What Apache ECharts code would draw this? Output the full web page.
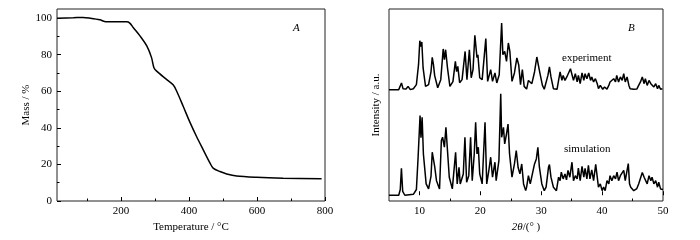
<!DOCTYPE html>
<html>
<head>
<meta charset="utf-8">
<script src="https://cdn.jsdelivr.net/npm/echarts@6/dist/echarts.min.js"></script>
<style>
html, body { margin: 0; padding: 0; background: #fff; }
#main { width: 700px; height: 240px; }
</style>
</head>
<body>
<div id="main"></div>
<script>
// TGA: [temperature (°C), mass (%)]
var tgaCurve = [
	[12, 100], [60, 100.2], [89, 100.4], [109, 100], [138, 99.1], [156, 98], [168, 98],
	[217, 98], [226, 97.3], [236, 94.9], [256, 90.3], [276, 84.8], [290, 78.4],
	[297, 72.9], [305, 71], [334, 66.5], [354, 63.4], [364, 60], [383, 51.8],
	[403, 43], [423, 35], [442, 28], [462, 20.7], [471, 18], [491, 16.1], [511, 14.8],
	[540, 13.7], [599, 13], [677, 12.5], [790, 12.1]
];

// XRD: [2theta (°), intensity (a.u.)]
var xrdExperiment = [
	[5, 0], [6.6, 0], [6.85, 0.8], [7.05, 3.5], [7.3, 0.5], [7.8, 0.3], [8.13, 1.7], [8.5, 0],
	[9.0, 0.5], [9.5, 2.6], [9.85, 13], [10.06, 25.5], [10.2, 22.5], [10.39, 24.8], [10.6, 11.3],
	[11.0, 1.7], [11.5, 2.6], [11.9, 9.4], [12.1, 16.8], [12.3, 13], [12.5, 7.3], [13.0, 1],
	[13.5, 5.2], [13.9, 21.2], [14.1, 15.6], [14.3, 20.8], [14.6, 11.5], [15.0, 1.7], [15.5, 4.2],
	[15.9, 14.7], [16.1, 9.4], [16.3, 12.1], [16.6, 3.6], [17.0, 5.2], [17.5, 19.9], [17.8, 5.2],
	[18.2, 20.8], [18.5, 6.2], [18.8, 10.4], [19.1, 28.3], [19.45, 16.7], [19.6, 18.2], [19.9, 6.2],
	[20.3, 5.2], [20.9, 26.6], [21.2, 4.3], [21.7, 10.4], [22.0, 4.3], [22.4, 8.7], [22.7, 3.5],
	[23.1, 7.8], [23.5, 34.7], [23.7, 18.2], [24.0, 19.9], [24.3, 14.7], [24.6, 24.3], [24.85, 19.9],
	[25.2, 4.3], [25.6, 8.7], [26.0, 16.5], [26.3, 13], [26.6, 2.6], [26.9, 10.4], [27.2, 1.7],
	[27.6, 0.3], [27.9, 4.8], [28.46, 3.1], [28.9, 9.2], [29.28, 17], [29.55, 17.9], [29.8, 8.3],
	[30.2, 2.2], [30.5, 0.2], [31.1, 7.4], [31.35, 11.8], [31.6, 6.6], [32.0, 0.5], [32.6, 0.2],
	[32.85, 4.8], [33.1, 9.2], [33.4, 4.8], [33.6, 7.4], [33.9, 4.8], [34.2, 6.6], [34.4, 5.7],
	[34.8, 10.9], [35.05, 11.8], [35.3, 4.8], [35.6, 8.3], [35.9, 4], [36.1, 7.4], [36.4, 3.1],
	[36.7, 8.7], [37.0, 4.8], [37.2, 8.3], [37.5, 5.7], [37.8, 8.7], [38.1, 4.8], [38.3, 6.6],
	[38.6, 4], [38.9, 5.7], [39.2, 3.1], [39.4, 0.5], [39.7, 2.2], [40.1, 0.2], [40.4, 1.4],
	[40.8, 0.3], [41.1, 2.2], [41.3, 4], [41.6, 3.1], [41.9, 5.7], [42.2, 4], [42.4, 7.4],
	[42.7, 4], [43.0, 6.6], [43.3, 4.8], [43.55, 8.3], [43.8, 4], [44.1, 6.6], [44.4, 2.2],
	[44.6, 0.5], [44.9, 0.3], [45.2, 0.2], [45.5, 0.5], [45.7, 0.3], [46.0, 2.2], [46.3, 4],
	[46.6, 6.6], [46.9, 3.1], [47.1, 5.7], [47.4, 2.2], [47.7, 4.8], [48.0, 3.1], [48.2, 4],
	[48.5, 1.4], [48.8, 3.1], [49.1, 0.5], [49.3, 2.2], [49.6, 0.2], [49.9, 0.5], [50, 0.5]
];
var xrdSimulation = [
	[5, 0], [6.6, 0], [6.85, 3], [7.04, 14], [7.25, 2], [7.6, 0], [9.0, 0.5], [9.5, 3],
	[9.78, 19.8], [9.95, 20], [10.1, 41.5], [10.25, 30], [10.44, 40.6], [10.65, 21.5], [11.1, 5.9],
	[11.5, 3.3], [11.9, 10], [12.1, 22.4], [12.3, 23.3], [12.5, 15], [12.8, 7.6], [13.3, 3.3],
	[13.6, 28.5], [13.8, 30.2], [14.1, 25], [14.35, 35.4], [14.55, 25.9], [14.9, 9.4], [15.4, 3.3],
	[15.94, 22.4], [16.2, 5.9], [16.5, 14.6], [16.7, 5.9], [17.2, 11.1], [17.47, 30.2], [17.75, 6.8],
	[18.1, 10.2], [18.4, 30.2], [18.67, 7.6], [19.0, 21.5], [19.23, 38], [19.45, 21.5], [19.67, 25],
	[19.9, 11.1], [20.3, 5.9], [20.77, 38], [21.05, 5.9], [21.4, 12.9], [21.7, 19.8], [22.0, 9.4],
	[22.4, 17.2], [22.6, 7.6], [23.05, 18], [23.35, 52.8], [23.5, 30.2], [23.8, 35.4], [24.0, 26.7],
	[24.3, 31.9], [24.55, 37.1], [24.8, 21.5], [25.2, 9.4], [25.6, 16.3], [25.9, 23.3], [26.2, 14.6],
	[26.5, 11.1], [26.8, 16.3], [27.1, 5.9], [27.45, 2.4], [27.6, 4.2], [27.9, 10.2], [28.2, 5.9],
	[28.5, 5], [28.9, 16.3], [29.2, 18.9], [29.45, 25], [29.7, 14.6], [30.1, 5.9], [30.5, 2.4],
	[30.8, 4.2], [31.2, 14.6], [31.35, 16], [31.6, 9.4], [32.0, 4.2], [32.5, 2.4], [32.85, 9.4],
	[33.1, 7.6], [33.3, 12], [33.6, 8.5], [33.9, 11.1], [34.15, 8], [34.4, 12.9], [34.7, 9.4],
	[35.05, 17.2], [35.3, 7.6], [35.6, 10.2], [35.9, 8.5], [36.1, 14.1], [36.4, 7.6], [36.7, 15],
	[37.0, 9.4], [37.2, 14], [37.5, 8.5], [37.75, 15.6], [38.0, 8.5], [38.3, 13.2], [38.6, 7.6],
	[38.95, 16.1], [39.2, 9.4], [39.4, 4.2], [39.7, 5.9], [40.0, 2.4], [40.25, 4.2], [40.5, 2.4],
	[40.8, 7.6], [41.1, 5.9], [41.3, 10.2], [41.6, 7.6], [41.9, 10.2], [42.2, 8.5], [42.45, 12],
	[42.7, 7.6], [43.0, 10.2], [43.3, 9.4], [43.55, 13], [43.8, 7.6], [44.1, 12.9], [44.3, 16.5],
	[44.5, 6], [44.7, 4.2], [44.9, 4.2], [45.2, 2.4], [45.5, 1.5], [45.7, 3.5], [46.0, 5.9],
	[46.3, 5], [46.6, 11.8], [46.9, 9.4], [47.1, 10.2], [47.4, 5.9], [47.7, 10.2], [48.0, 7.6],
	[48.2, 9.4], [48.5, 5.9], [48.8, 7.6], [49.1, 4.2], [49.3, 6.8], [49.6, 3.3], [49.9, 4.2], [50, 3]
];
var experimentOffset = 55;  // vertical stacking of the two patterns

var tempLabels = [200, 400, 600, 800];
var tempMinor = [100, 300, 500, 700];
var massLabels = [0, 20, 40, 60, 80, 100];
var massMinor = [10, 30, 50, 70, 90];
var angleLabels = [10, 20, 30, 40, 50];
var angleMinor = [15, 25, 35, 45];

var myChart = echarts.init(document.getElementById('main'));
var font = 'Liberation Serif';
var txt = { color: '#000', fontFamily: font, fontSize: 11 };

function majorAxis(gridIndex, min, max, labels, extra) {
	var ax = {
		type: 'value', gridIndex: gridIndex, min: min, max: max,
		axisLine: { show: false },
		splitLine: { show: false },
		axisTick: { inside: true, length: 4, customValues: labels, lineStyle: { color: '#000' } },
		axisLabel: { customValues: labels, margin: 5, color: '#000', fontFamily: font, fontSize: 11 }
	};
	for (var k in extra) ax[k] = extra[k];
	return ax;
}
function minorAxis(gridIndex, min, max, ticks, position) {
	return {
		type: 'value', gridIndex: gridIndex, min: min, max: max, position: position,
		axisLine: { show: false },
		splitLine: { show: false },
		axisLabel: { show: false },
		axisTick: { inside: true, length: 2.5, customValues: ticks, lineStyle: { color: '#000' } }
	};
}

var expData = xrdExperiment.map(function(p) { return [p[0], p[1] + experimentOffset]; });

var option = {
	backgroundColor: '#ffffff',
	animation: false,
	grid: [
		{ left: 57, top: 9, width: 268, height: 192, show: true, borderColor: '#222', borderWidth: 1 },
		{ left: 389, top: 9, width: 274, height: 192, show: true, borderColor: '#222', borderWidth: 1 }
	],
	xAxis: [
		majorAxis(0, 12, 800, tempLabels, {
			name: 'Temperature / °C', nameLocation: 'middle', nameGap: 15, nameTextStyle: txt
		}),
		minorAxis(0, 12, 800, tempMinor, 'bottom'),
		majorAxis(1, 5, 50, angleLabels, {
			name: '{i|2θ}{n|/(° )}', nameLocation: 'middle', nameGap: 15,
			nameTextStyle: {
				color: '#000', fontFamily: font, fontSize: 11,
				rich: { i: { fontStyle: 'italic', fontFamily: font, fontSize: 11, color: '#000' },
					n: { fontFamily: font, fontSize: 11, color: '#000' } }
			}
		}),
		minorAxis(1, 5, 50, angleMinor, 'bottom')
	],
	yAxis: [
		majorAxis(0, 0, 105, massLabels, {
			name: 'Mass / %', nameLocation: 'middle', nameGap: 22, nameTextStyle: txt
		}),
		minorAxis(0, 0, 105, massMinor, 'left'),
		{
			type: 'value', gridIndex: 1, min: -3, max: 97,
			axisLine: { show: false }, axisTick: { show: false },
			axisLabel: { show: false }, splitLine: { show: false },
			name: 'Intensity / a.u.', nameLocation: 'middle', nameGap: 7, nameTextStyle: txt
		}
	],
	graphic: [
		{ type: 'text', left: 293, top: 23, style: { text: 'A', font: 'italic 11px "Liberation Serif"', fill: '#000' } },
		{ type: 'text', left: 628, top: 23, style: { text: 'B', font: 'italic 11px "Liberation Serif"', fill: '#000' } },
		{ type: 'text', left: 562, top: 53, style: { text: 'experiment', font: '11px "Liberation Serif"', fill: '#000' } },
		{ type: 'text', left: 564, top: 144, style: { text: 'simulation', font: '11px "Liberation Serif"', fill: '#000' } }
	],
	series: [
		{
			name: 'TGA', type: 'line', xAxisIndex: 0, yAxisIndex: 0,
			data: tgaCurve, smooth: 0.3, symbol: 'none',
			lineStyle: { color: '#000', width: 1.5 }
		},
		{
			name: 'experiment', type: 'line', xAxisIndex: 2, yAxisIndex: 2,
			data: expData, symbol: 'none',
			lineStyle: { color: '#000', width: 1.5 }
		},
		{
			name: 'simulation', type: 'line', xAxisIndex: 2, yAxisIndex: 2,
			data: xrdSimulation, symbol: 'none',
			lineStyle: { color: '#000', width: 1.5 }
		}
	]
};
myChart.setOption(option);
window.addEventListener('resize', function() {
	myChart.resize();
});
</script>
</body>
</html>
